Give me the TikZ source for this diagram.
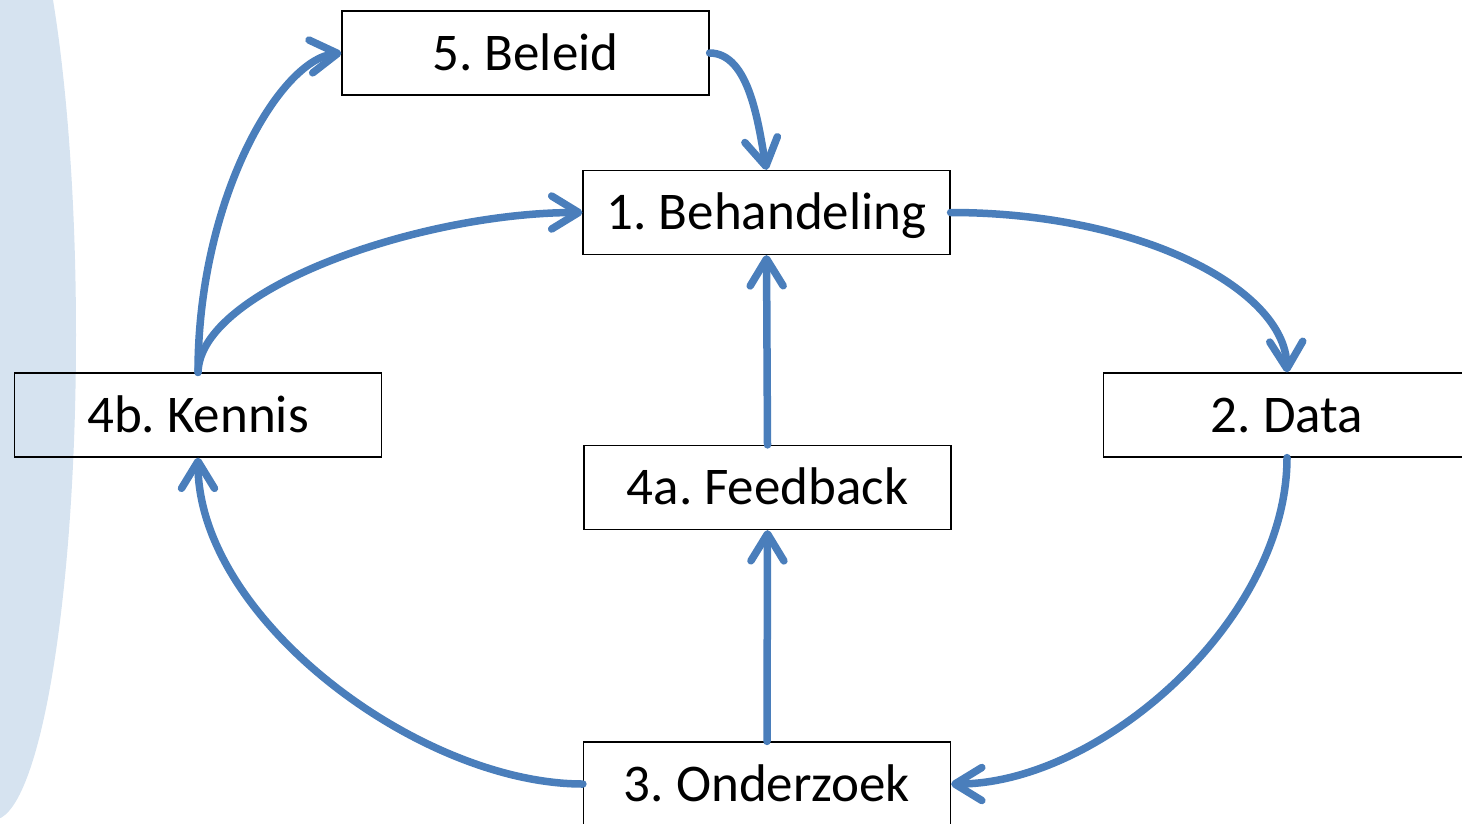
\documentclass[tikz,border=0pt]{standalone}
\usepackage{fontspec}
\setmainfont{Carlito}
\usetikzlibrary{arrows.meta}
\definecolor{arrowblue}{HTML}{4A7EBB}
\definecolor{bgblue}{HTML}{D6E3F0}
\tikzset{
  box/.style={draw=black, line width=1.2pt, minimum width=367pt, minimum height=84pt,
    inner sep=0pt, text height=34pt, text depth=0pt,
    font=\fontsize{53}{60}\selectfont\frenchspacing},
  conn/.style={draw=arrowblue, line width=7.5pt, line cap=round,
    -{Straight Barb[length=27pt, width=33pt, line cap=round, line join=round]}}
}
\begin{document}
\begin{tikzpicture}[x=1pt,y=-1pt]
\useasboundingbox (0,0) rectangle (1462,823);
\begin{scope}
\clip (0,0) rectangle (1462,823);
\fill[bgblue] (-7,335) ellipse [x radius=83, y radius=485];
\end{scope}
\node[box] (beleid) at (525.5,53) {5. Beleid};
\node[box] (beh) at (766.5,212.5) {1. Behandeling};
\node[box] (kennis) at (198,415) {4b. Kennis};
\node[box] (data) at (1287,415) {2. Data};
\node[box] (feed) at (767.5,487.5) {4a. Feedback};
\node[box] (onder) at (767,784) {3. Onderzoek};
\draw[conn] (beleid.east) .. controls +(40,0) and +(-8,-45) .. (beh.north);
\draw[conn] (beh.east) .. controls +(190,0) and +(-2,-83) .. (data.north);
\draw[conn] (data.south) .. controls +(0,163) and +(149,0) .. (onder.east);
\draw[conn] (onder.west) .. controls +(-163,0) and +(0,161) .. (kennis.south);
\draw[conn] (onder.north) -- (feed.south);
\draw[conn] (feed.north) -- (beh.south);
\draw[conn] (kennis.north) .. controls +(2,-83) and +(-163,0) .. (beh.west);
\draw[conn] (kennis.north) .. controls +(0,-173) and +(-62,7) .. (beleid.west);
\end{tikzpicture}
\end{document}
